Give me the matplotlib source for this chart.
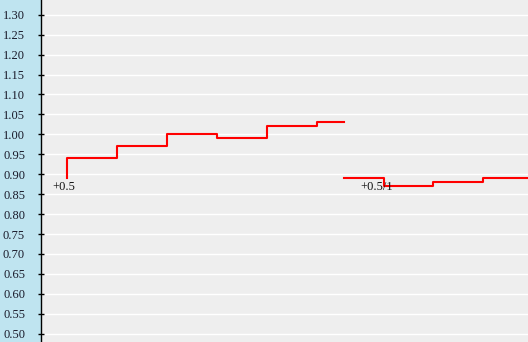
import numpy as np
import matplotlib
matplotlib.use("Agg")
import matplotlib.pyplot as plt

# step series (x in bar units, 0 = first step)
s1_x = [0, 0, 1, 2, 3, 4, 5, 5.53]
s1_y = [0.89, 0.94, 0.97, 1.00, 0.99, 1.02, 1.03, 1.03]
s2_x = [5.53, 6.33, 7.31, 8.31, 9.4]
s2_y = [0.89, 0.87, 0.88, 0.89, 0.89]

labels = ["+0.5", "+0.5/1"]
label_x = [-0.3, 5.86]
label_y = [0.869, 0.869]

yticks = np.round(np.arange(0.50, 1.301, 0.05), 2)

fig = plt.figure(figsize=(5.28, 3.42), dpi=100)
fig.patch.set_facecolor("#bfe4f0")
ax = fig.add_axes([41 / 528, 0, 487 / 528, 1])
ax.set_facecolor("#eeeeee")

ax.plot(s1_x, s1_y, drawstyle="steps-post", color="#ff0000", lw=1.5, zorder=3)
ax.plot(s2_x, s2_y, drawstyle="steps-post", color="#ff0000", lw=1.5, zorder=3)

for t, x, y in zip(labels, label_x, label_y):
    ax.text(x, y, t, fontsize=9, family="Liberation Serif", color="#111111",
            va="center", ha="left", zorder=4)

ax.set_xlim(-0.52, 9.22)
ax.set_ylim(0.4792, 1.3369)
ax.set_yticks(yticks)
ax.set_yticklabels([f"{v:.2f}" for v in yticks], family="Liberation Serif",
                   fontsize=9, color="#1a1a2a")
ax.tick_params(axis="y", direction="inout", length=5, width=1, pad=9)
ax.set_xticks([])
ax.grid(axis="y", color="white", lw=1)
ax.set_axisbelow(True)
for s in ["top", "right", "bottom"]:
    ax.spines[s].set_visible(False)
ax.spines["left"].set_color("black")
ax.spines["left"].set_linewidth(1)

fig.savefig("out.png", dpi=100, facecolor=fig.get_facecolor())
